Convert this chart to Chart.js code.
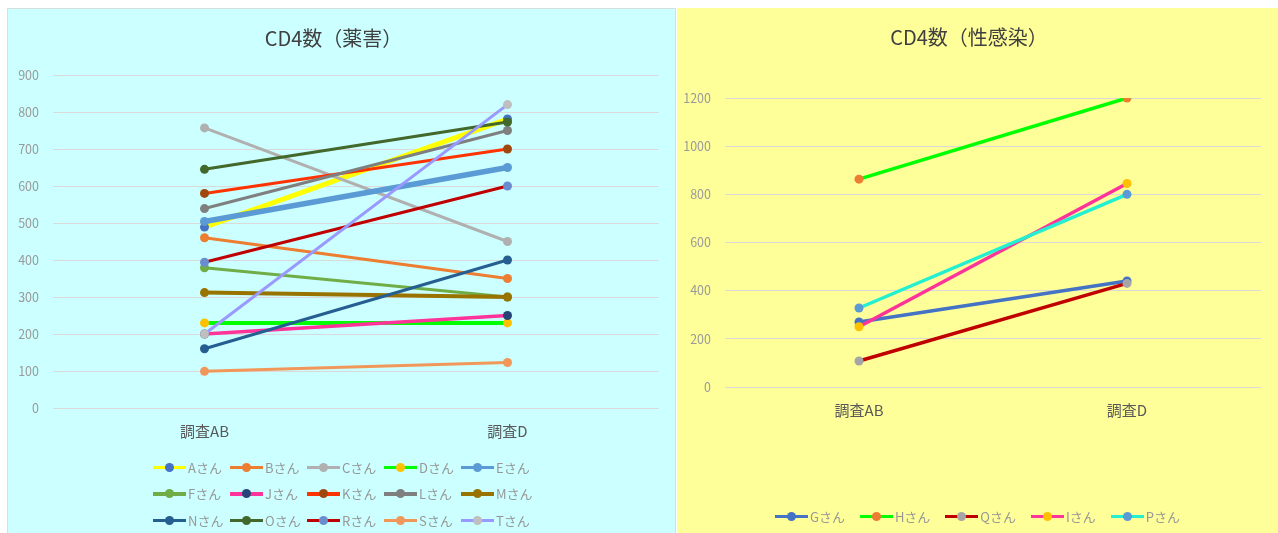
<!DOCTYPE html>
<html lang="ja">
<head>
<meta charset="utf-8">
<title>CD4数</title>
<script src="https://cdn.jsdelivr.net/npm/chart.js@4.4.1/dist/chart.umd.min.js"></script>
<style>
  html, body { margin: 0; padding: 0; background: #fff; }
  body { width: 1278px; height: 533px; position: relative; overflow: hidden;
         font-family: "Noto Sans CJK JP", "Noto Sans", sans-serif; }
  .panel { position: absolute; top: 8px; height: 525px; box-sizing: border-box; }
  #leftPanel { left: 7px; width: 669px; background: #CCFFFF; border: 1px solid #D6DEDE; border-bottom: none; }
  #rightPanel { left: 677px; width: 601px; background: #FFFF99; }
  .plot { position: absolute; left: 0; top: 0; right: 0; bottom: 0; }
  .legend { position: absolute; display: flex; flex-wrap: wrap; font-size: 13px; color: #979797; }
  #leftLegend { left: 145px; top: 445px; width: 385px; }
  #leftLegend .item { width: 77px; }
  #rightLegend { left: 0; right: 0; top: 495px; justify-content: center; column-gap: 15px; }
  .item { height: 26.5px; display: flex; align-items: center; white-space: nowrap; }
  .swatch { position: relative; width: 33px; height: 10px; margin-right: 2px; flex: none; }
  .swatch .ln { position: absolute; left: 0; right: 0; top: 3.5px; height: 3.5px; }
  .swatch .dot { position: absolute; left: 12px; top: 0.5px; width: 9px; height: 9px; border-radius: 50%; }
</style>
</head>
<body>
<div class="panel" id="leftPanel">
  <div class="plot"><canvas id="yakugaiChart"></canvas></div>
  <div class="legend" id="leftLegend"></div>
</div>
<div class="panel" id="rightPanel">
  <div class="plot"><canvas id="seiChart"></canvas></div>
  <div class="legend" id="rightLegend"></div>
</div>
<script>
// Data
const categories = ['調査AB', '調査D'];

const yakugaiNames = ['Aさん', 'Bさん', 'Cさん', 'Dさん', 'Eさん', 'Fさん', 'Jさん', 'Kさん',
                      'Lさん', 'Mさん', 'Nさん', 'Oさん', 'Rさん', 'Sさん', 'Tさん'];
const yakugaiAB = [489, 460, 757, 230, 504, 379, 200, 580, 539, 312, 160, 645, 394, 99, 200];
const yakugaiD  = [781, 350, 450, 230, 650, 300, 250, 700, 750, 300, 400, 773, 600, 123, 820];
const yakugaiTicks = [0, 100, 200, 300, 400, 500, 600, 700, 800, 900];

const seiNames = ['Gさん', 'Hさん', 'Qさん', 'Iさん', 'Pさん'];
const seiAB = [270, 863, 108, 250, 328];
const seiD  = [440, 1200, 430, 845, 800];
const seiTicks = [0, 200, 400, 600, 800, 1000, 1200];

// Styles (line colour, marker colour, line width)
const yakugaiLine   = ['#FFFF00', '#ED7D31', '#B0B0B0', '#00FF00', '#5B9BD5', '#70AD47', '#FF3399', '#FF3300',
                       '#7F7F7F', '#997300', '#255E91', '#43682B', '#C00000', '#F1975A', '#9999FF'];
const yakugaiMarker = ['#4472C4', '#ED7D31', '#B0B0B0', '#FFC000', '#5B9BD5', '#70AD47', '#264478', '#9E480E',
                       '#7F7F7F', '#997300', '#255E91', '#43682B', '#698ED0', '#F1975A', '#BFBFBF'];
const yakugaiWidth  = [5, 3, 3, 4, 5.5, 3, 3.5, 3, 3, 4, 3, 3, 3, 3, 3];

const seiLine   = ['#4472C4', '#00FF00', '#C00000', '#FF3399', '#22F0D0'];
const seiMarker = ['#4472C4', '#ED7D31', '#A5A5A5', '#FFC000', '#5B9BD5'];
const seiWidth  = [3.5, 3.5, 3.5, 3.5, 3.5];

const chartFont = '"Noto Sans CJK JP", "Noto Sans", sans-serif';
Chart.defaults.font.family = chartFont;

function buildDatasets(names, ab, d, lines, markers, widths) {
    return names.map((name, i) => ({
        label: name,
        data: [ab[i], d[i]],
        borderColor: lines[i],
        backgroundColor: markers[i],
        pointBackgroundColor: markers[i],
        pointBorderColor: markers[i],
        pointBorderWidth: 0,
        pointRadius: 4.5,
        borderWidth: widths[i],
        // later series drawn on top, like Excel
        order: -i
    }));
}

function buildChart(canvasId, title, datasets, ticks, layout) {
    const ctx = document.getElementById(canvasId).getContext('2d');
    return new Chart(ctx, {
        type: 'line',
        data: { labels: categories, datasets: datasets },
        options: {
            responsive: true,
            maintainAspectRatio: false,
            animation: false,
            layout: { padding: { left: 0, right: layout.right, top: 0, bottom: layout.bottom } },
            plugins: {
                legend: { display: false },
                tooltip: { enabled: false },
                title: {
                    display: true,
                    text: title,
                    color: '#404040',
                    font: { size: 20, weight: 'normal' },
                    padding: { top: 17, bottom: layout.titleBottom }
                }
            },
            scales: {
                x: {
                    offset: true,
                    grid: { display: false, drawTicks: false },
                    border: { display: false },
                    ticks: { color: '#595959', font: { size: 15 }, padding: 14 },
                    afterFit: (scale) => { scale.height = 36; }
                },
                y: {
                    min: ticks[0],
                    max: ticks[ticks.length - 1],
                    afterBuildTicks: (scale) => { scale.ticks = ticks.map(v => ({ value: v })); },
                    grid: { color: '#DADADA', lineWidth: 1, drawTicks: false },
                    border: { display: false },
                    ticks: {
                        color: '#9A9A9A',
                        font: { size: 12.5 },
                        padding: layout.tickPad,
                        callback: (value) => String(value)
                    },
                    afterFit: (scale) => { scale.width = layout.axisWidth; }
                }
            }
        }
    });
}

function buildLegend(chart, elementId) {
    const box = document.getElementById(elementId);
    box.innerHTML = '';
    chart.data.datasets.forEach(ds => {
        const item = document.createElement('div');
        item.className = 'item';
        const swatch = document.createElement('span');
        swatch.className = 'swatch';
        const ln = document.createElement('span');
        ln.className = 'ln';
        ln.style.background = ds.borderColor;
        const dot = document.createElement('span');
        dot.className = 'dot';
        dot.style.background = ds.pointBackgroundColor;
        swatch.appendChild(ln);
        swatch.appendChild(dot);
        const txt = document.createElement('span');
        txt.textContent = ds.label;
        item.appendChild(swatch);
        item.appendChild(txt);
        box.appendChild(item);
    });
}

const yakugaiChart = buildChart('yakugaiChart', 'CD4数（薬害）',
    buildDatasets(yakugaiNames, yakugaiAB, yakugaiD, yakugaiLine, yakugaiMarker, yakugaiWidth),
    yakugaiTicks, { right: 16, bottom: 89, titleBottom: 25, tickPad: 14, axisWidth: 45 });

const seiChart = buildChart('seiChart', 'CD4数（性感染）',
    buildDatasets(seiNames, seiAB, seiD, seiLine, seiMarker, seiWidth),
    seiTicks, { right: 17, bottom: 110, titleBottom: 49, tickPad: 14, axisWidth: 48 });

buildLegend(yakugaiChart, 'leftLegend');
buildLegend(seiChart, 'rightLegend');
</script>
</body>
</html>
